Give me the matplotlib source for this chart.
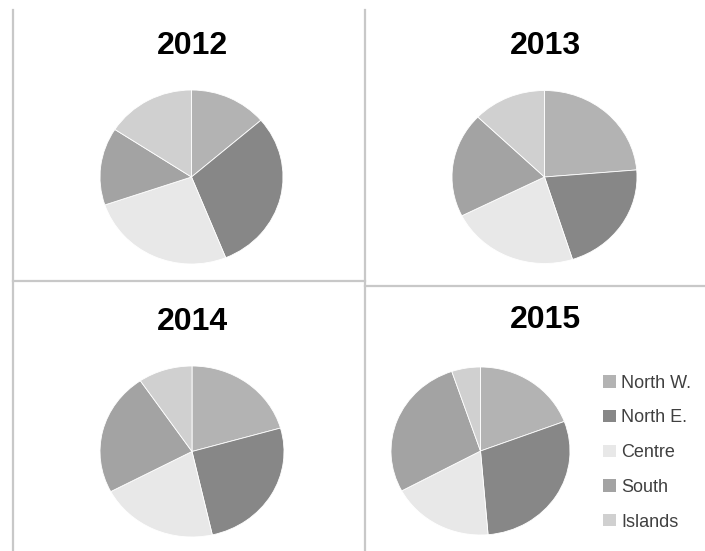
import matplotlib.pyplot as plt
from matplotlib.patches import Patch

regions = ['North W.', 'North E.', 'Centre', 'South', 'Islands']
colors = ['#b3b3b3', '#878787', '#e8e8e8', '#a3a3a3', '#d0d0d0']

years = ['2012', '2013', '2014', '2015']
share_2012 = [13.7, 30.2, 25.9, 14.4, 15.8]
share_2013 = [23.7, 21.4, 22.5, 19.6, 12.8]
share_2014 = [20.6, 25.9, 20.8, 23.3, 9.5]
share_2015 = [19.3, 29.4, 18.5, 27.7, 5.2]
shares = [share_2012, share_2013, share_2014, share_2015]

W, H = 705, 551
fig = plt.figure(figsize=(W / 100, H / 100), dpi=100)
plt.rcParams['font.family'] = ['Liberation Sans', 'DejaVu Sans']

# panel layout in pixels: pie centre x, y, radius x, y and title centre y
panels = [
    (191.5, 177, 91.5, 87, 45.5),
    (544.5, 177, 92.5, 86.5, 45.5),
    (192, 451.5, 92, 85.5, 322),
    (480.5, 451, 89.5, 84, 320),
]
title_x = [192, 545, 192, 545]

for i, (cx, cy, rx, ry, ty) in enumerate(panels):
    ax = fig.add_axes([(cx - rx) / W, 1 - (cy + ry) / H, 2 * rx / W, 2 * ry / H])
    ax.pie(shares[i], colors=colors, startangle=90, counterclock=False,
           wedgeprops=dict(edgecolor='white', linewidth=0.6))
    ax.set_aspect('auto')
    ax.set_xlim(-1, 1)
    ax.set_ylim(-1, 1)
    ax.axis('off')
    fig.text(title_x[i] / W, 1 - ty / H, years[i], ha='center', va='center',
             fontsize=23, fontweight='bold', color='black')

# grey frame lines between the panels
line_kw = dict(color='#c8c8c8', linewidth=1.6, transform=fig.transFigure)
fig.add_artist(plt.Line2D([13 / W, 13 / W], [1 - 10 / H, 0], **line_kw))
fig.add_artist(plt.Line2D([364.5 / W, 364.5 / W], [1 - 10 / H, 0], **line_kw))
fig.add_artist(plt.Line2D([13 / W, 364.5 / W], [1 - 281.5 / H, 1 - 281.5 / H], **line_kw))
fig.add_artist(plt.Line2D([364.5 / W, 1], [1 - 286 / H, 1 - 286 / H], **line_kw))

handles = [Patch(facecolor=c, edgecolor='none') for c in colors]
fig.legend(handles, regions, loc='upper left',
           bbox_to_anchor=(587 / W, 1 - 358.5 / H), frameon=False,
           fontsize=13, labelcolor='#404040', handlelength=0.68,
           handleheight=0.68, handletextpad=0.3, labelspacing=0.98)

fig.savefig('out.png', dpi=100)
